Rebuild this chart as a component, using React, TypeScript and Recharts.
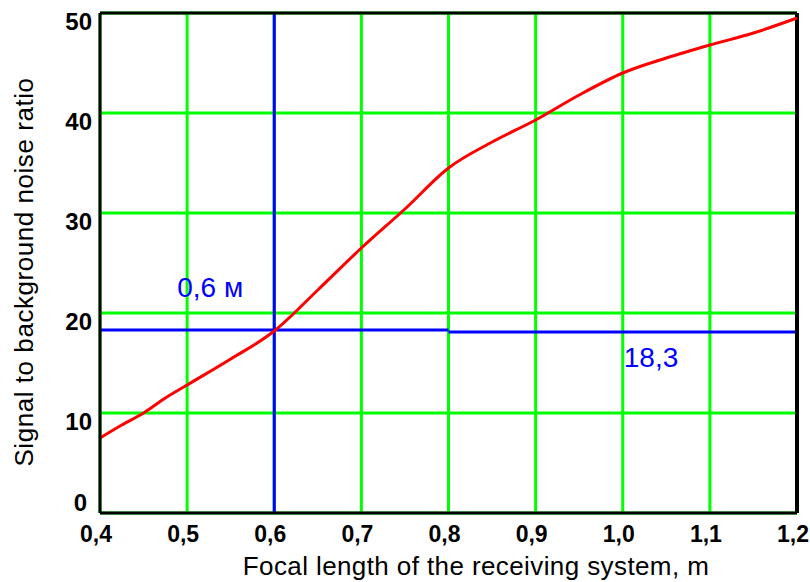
import React from 'react';
import {
  LineChart,
  Line,
  XAxis,
  YAxis,
  CartesianGrid,
  ReferenceLine,
  ReferenceDot,
} from 'recharts';

const focalLength = [0.4, 0.425, 0.45, 0.475, 0.5, 0.55, 0.6, 0.65, 0.7, 0.75, 0.8, 0.85, 0.9, 0.95, 1.0, 1.05, 1.1, 1.15, 1.2];
const snrRatio = [7.5, 8.8, 10.0, 11.5, 12.8, 15.4, 18.2, 22.3, 26.5, 30.4, 34.5, 37.1, 39.3, 41.8, 44.0, 45.5, 46.8, 48.0, 49.5];
const xTicks = [0.4, 0.5, 0.6, 0.7, 0.8, 0.9, 1.0, 1.1, 1.2];
const yTicks = [0, 10, 20, 30, 40, 50];
const markFocal = 0.6;
const markRatio = 18.3;
const markRatioRight = 18.1;
const markSplitX = 0.8;
const labelFocal = '0,6 м';
const labelRatio = '18,3';
const xTitle = 'Focal length of the receiving system, m';
const yTitle = 'Signal to background noise ratio';

const data = focalLength.map((f, i) => ({ f, r: snrRatio[i] }));

const FONT = '"Liberation Sans", Arial, sans-serif';

const fmtX = (v: number) => v.toFixed(1).replace('.', ',');

const XTick = (props: any) => {
  const { x, y, payload } = props;
  return (
    <text x={x - 4} y={y + 5} dy="0.71em" textAnchor="middle" fontFamily={FONT} fontSize={23} fontWeight="bold" fill="#000">
      {fmtX(payload.value)}
    </text>
  );
};

const YTick = (props: any) => {
  const { x, y, payload } = props;
  const isZero = payload.value === 0;
  return (
    <text
      x={isZero ? x - 5 : x}
      y={isZero ? y - 11 : y + 8}
      dy="0.355em"
      textAnchor="end"
      fontFamily={FONT}
      fontSize={24}
      fontWeight="bold"
      fill="#000"
    >
      {String(payload.value)}
    </text>
  );
};

const XTitle = () => (
  <text x={476} y={575} textAnchor="middle" fontFamily={FONT} fontSize={26} letterSpacing={0.4} fill="#000">
    {xTitle}
  </text>
);

const YTitle = () => (
  <text
    x={33}
    y={272}
    transform="rotate(-90, 33, 272)"
    textAnchor="middle"
    fontFamily={FONT}
    fontSize={26}
    letterSpacing={0.55}
    fill="#000"
  >
    {yTitle}
  </text>
);

const FocalLabel = (props: any) => {
  const vb = props.viewBox || {};
  return (
    <text x={vb.x - 97} y={vb.y - 33} textAnchor="start" fontFamily={FONT} fontSize={28} fill="#0000ff">
      {labelFocal}
    </text>
  );
};

const RatioLabel = (props: any) => {
  const vb = props.viewBox || {};
  return (
    <text x={vb.x + 1} y={vb.y + 37} textAnchor="start" fontFamily={FONT} fontSize={28} fill="#0000ff">
      {labelRatio}
    </text>
  );
};

export default function App() {
  return (
    <div style={{ position: 'absolute', left: 0, top: 0, width: 810, height: 582, background: '#fff' }}>
      <LineChart width={810} height={582} data={data} margin={{ top: 13, right: 13, bottom: 0, left: 0 }}>
        <CartesianGrid stroke="#00ff00" strokeWidth={3} />
        <XAxis
          dataKey="f"
          type="number"
          domain={[0.4, 1.2]}
          ticks={xTicks}
          height={69}
          tickLine={false}
          axisLine={{ stroke: '#000', strokeWidth: 3 }}
          tick={<XTick />}
          interval={0}
          label={<XTitle />}
        />
        <YAxis
          type="number"
          domain={[0, 50]}
          ticks={yTicks}
          width={100}
          tickLine={false}
          axisLine={{ stroke: '#000', strokeWidth: 3 }}
          tick={<YTick />}
          interval={0}
          label={<YTitle />}
        />
        <ReferenceLine x={markFocal} stroke="#0000ff" strokeWidth={3} />
        <ReferenceLine
          segment={[
            { x: 0.4, y: markRatio },
            { x: markSplitX, y: markRatio },
          ]}
          stroke="#0000ff"
          strokeWidth={3}
        />
        <ReferenceLine
          segment={[
            { x: markSplitX, y: markRatioRight },
            { x: 1.2, y: markRatioRight },
          ]}
          stroke="#0000ff"
          strokeWidth={3}
        />
        <ReferenceLine y={50} stroke="#000" strokeWidth={3} />
        <ReferenceLine x={1.2} stroke="#000" strokeWidth={4} />
        <ReferenceDot x={markFocal} y={markRatio} r={0} fill="none" stroke="none" label={<FocalLabel />} />
        <ReferenceDot x={1.0} y={markRatio} r={0} fill="none" stroke="none" label={<RatioLabel />} />
        <Line
          type="monotone"
          dataKey="r"
          stroke="#ff0000"
          strokeWidth={3}
          dot={false}
          activeDot={false}
          isAnimationActive={false}
        />
      </LineChart>
    </div>
  );
}
